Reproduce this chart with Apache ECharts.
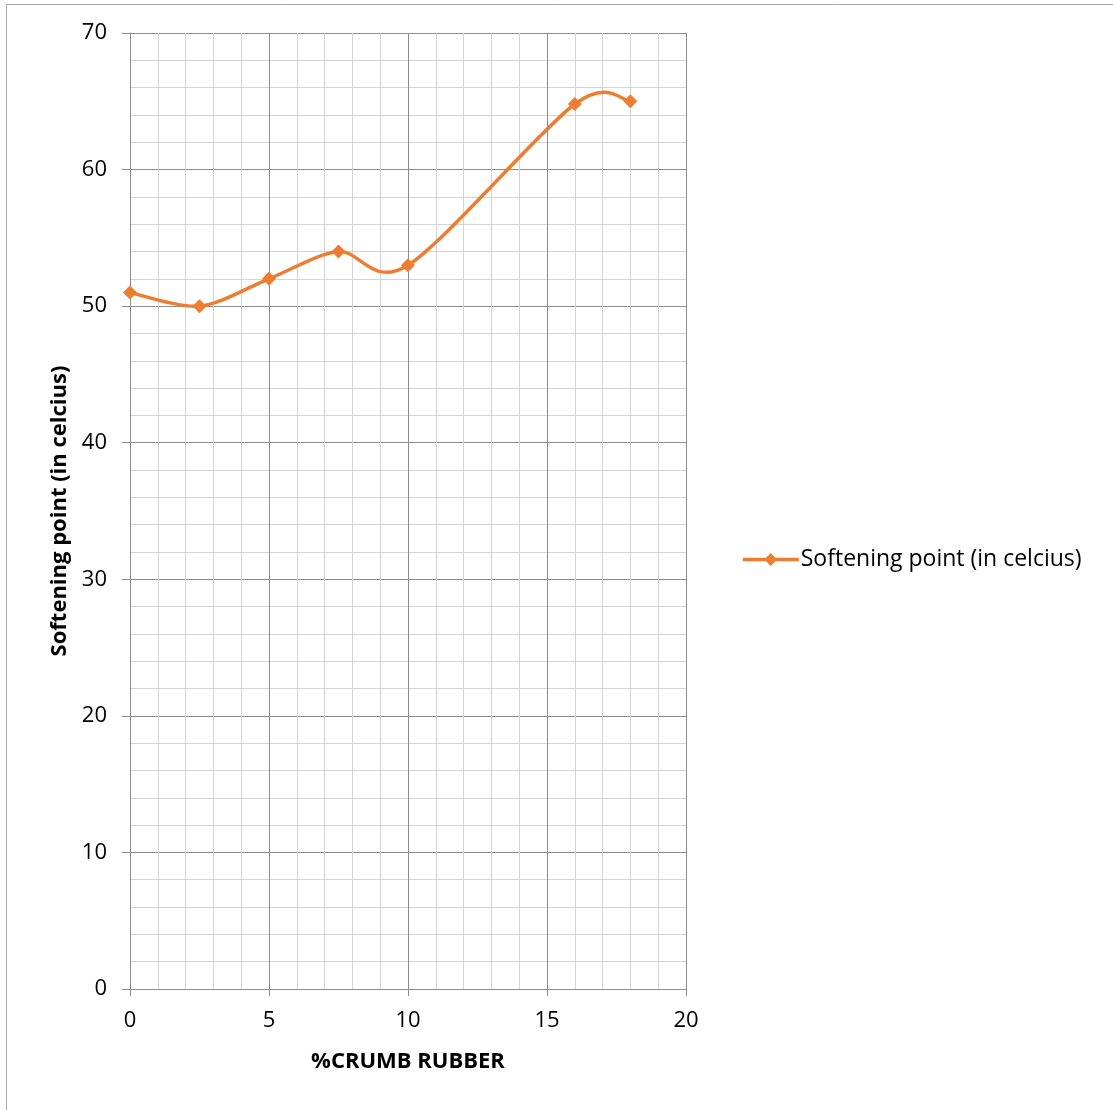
<!DOCTYPE html>
<html>
<head>
<meta charset="utf-8">
<script src="https://cdn.jsdelivr.net/npm/echarts@6/dist/echarts.min.js"></script>
<style>
  html, body { margin: 0; padding: 0; background: #fff; }
  #chart { width: 1113px; height: 1110px; }
</style>
</head>
<body>
<div id="chart"></div>
<script>
// Crumb rubber content (%) and measured softening point
const crumbRubber = [0, 2.5, 5, 7.5, 10, 16, 18];
const softeningPoint = [51, 50, 52, 54, 53, 64.8, 65];
const seriesName = 'Softening point (in celcius)';
const xTitle = '%CRUMB RUBBER';
const yTitle = 'Softening point (in celcius)';

const FONT = '"Open Sans", "Noto Sans", sans-serif';
const ORANGE = '#ed7d31';
const LINE_W = 3.5;

const points = crumbRubber.map((x, i) => [x, softeningPoint[i]]);

// Draws the curve segment that starts at data item i as a cubic Bezier
// with Catmull-Rom style control points computed in pixel space.
function renderSegment(params, api) {
  const i = params.dataIndex;
  if (i >= points.length - 1) return null;
  const P = k => api.coord(points[Math.max(0, Math.min(points.length - 1, k))]);
  const p0 = P(i - 1), p1 = P(i), p2 = P(i + 1), p3 = P(i + 2);
  const t = 1 / 6.5;
  const c1 = [p1[0] + (p2[0] - p0[0]) * t, p1[1] + (p2[1] - p0[1]) * t];
  const c2 = [p2[0] - (p3[0] - p1[0]) * t, p2[1] - (p3[1] - p1[1]) * t];
  return {
    type: 'bezierCurve',
    shape: { x1: p1[0], y1: p1[1], cpx1: c1[0], cpy1: c1[1], cpx2: c2[0], cpy2: c2[1], x2: p2[0], y2: p2[1] },
    style: { stroke: ORANGE, lineWidth: LINE_W, fill: null, lineCap: 'round' },
    silent: true
  };
}

const chart = echarts.init(document.getElementById('chart'), null, { renderer: 'canvas' });

chart.setOption({
  backgroundColor: '#fff',
  animation: false,
  grid: { left: 130, right: 427, top: 33, bottom: 121, containLabel: false },
  legend: {
    data: [seriesName],
    left: 741,
    top: 548,
    padding: 0,
    itemWidth: 56,
    itemHeight: 16,
    itemGap: 0,
    textStyle: { fontFamily: FONT, fontSize: 23, color: '#000', padding: [0, 0, 0, -3] },
    itemStyle: { color: ORANGE },
    lineStyle: { color: ORANGE, width: LINE_W, opacity: 1 }
  },
  xAxis: {
    type: 'value',
    min: 0, max: 20, interval: 5,
    name: xTitle,
    nameLocation: 'middle',
    nameGap: 62,
    nameTextStyle: { fontFamily: FONT, fontSize: 22, fontWeight: 'bold', color: '#000' },
    axisLine: { show: true, lineStyle: { color: '#8c8c8c', width: 1 } },
    axisTick: { show: true, length: 7, lineStyle: { color: '#8c8c8c' } },
    axisLabel: { fontFamily: FONT, fontSize: 22, color: '#000', margin: 21 },
    splitLine: { show: true, lineStyle: { color: '#8c8c8c', width: 1 } },
    minorTick: { show: false, splitNumber: 5 },
    minorSplitLine: { show: true, lineStyle: { color: '#d4d4d4', width: 1 } }
  },
  yAxis: {
    type: 'value',
    min: 0, max: 70, interval: 10,
    name: yTitle,
    nameLocation: 'middle',
    nameGap: 59,
    nameRotate: 90,
    nameTextStyle: { fontFamily: FONT, fontSize: 22, fontWeight: 'bold', color: '#000' },
    axisLine: { show: true, lineStyle: { color: '#8c8c8c', width: 1 } },
    axisTick: { show: true, length: 8, lineStyle: { color: '#8c8c8c' } },
    axisLabel: { fontFamily: FONT, fontSize: 22, color: '#000', margin: 23 },
    splitLine: { show: true, lineStyle: { color: '#8c8c8c', width: 1 } },
    minorTick: { show: false, splitNumber: 5 },
    minorSplitLine: { show: true, lineStyle: { color: '#d4d4d4', width: 1 } }
  },
  series: [
    {
      // smooth curve through the measurements
      type: 'custom',
      name: 'curve',
      data: points,
      renderItem: renderSegment,
      z: 2,
      silent: true
    },
    {
      // diamond markers (the connecting line is drawn by the custom series)
      name: seriesName,
      type: 'line',
      data: points,
      symbol: 'diamond',
      symbolSize: 14,
      showAllSymbol: true,
      lineStyle: { color: ORANGE, width: LINE_W, opacity: 0 },
      itemStyle: { color: ORANGE, borderWidth: 0 },
      z: 3
    }
  ],
  graphic: [
    { type: 'line', shape: { x1: 6.5, y1: 4.5, x2: 6.5, y2: 1110 }, style: { stroke: '#a6a6a6', lineWidth: 1 } },
    { type: 'line', shape: { x1: 6.5, y1: 4.5, x2: 1113, y2: 4.5 }, style: { stroke: '#a6a6a6', lineWidth: 1 } }
  ]
});
</script>
</body>
</html>
